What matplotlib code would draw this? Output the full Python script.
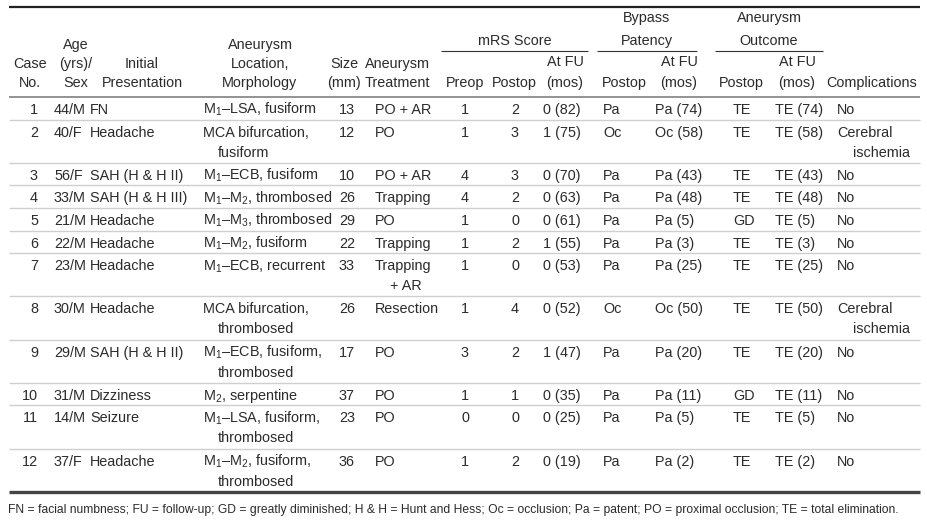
import matplotlib
matplotlib.use("Agg")
import matplotlib.pyplot as plt

plt.rcParams["font.family"] = ["Liberation Sans", "DejaVu Sans"]
plt.rcParams["mathtext.fontset"] = "custom"
plt.rcParams["mathtext.rm"] = "Liberation Sans"
plt.rcParams["mathtext.it"] = "Liberation Sans"
plt.rcParams["mathtext.default"] = "regular"

# table data, one list per column
case_no = ["1", "2", "3", "4", "5", "6", "7", "8", "9", "10", "11", "12"]
age_sex = ["44/M", "40/F", "56/F", "33/M", "21/M", "22/M", "23/M", "30/M", "29/M", "31/M", "14/M", "37/F"]
presentation = ["FN", "Headache", "SAH (H & H II)", "SAH (H & H III)", "Headache", "Headache",
                "Headache", "Headache", "SAH (H & H II)", "Dizziness", "Seizure", "Headache"]
location = [r"M$_1$–LSA, fusiform", "MCA bifurcation,\nfusiform", r"M$_1$–ECB, fusiform",
            r"M$_1$–M$_2$, thrombosed", r"M$_1$–M$_3$, thrombosed", r"M$_1$–M$_2$, fusiform",
            r"M$_1$–ECB, recurrent", "MCA bifurcation,\nthrombosed", "M$_1$–ECB, fusiform,\nthrombosed",
            r"M$_2$, serpentine", "M$_1$–LSA, fusiform,\nthrombosed", "M$_1$–M$_2$, fusiform,\nthrombosed"]
size_mm = ["13", "12", "10", "26", "29", "22", "33", "26", "17", "37", "23", "36"]
treatment = ["PO + AR", "PO", "PO + AR", "Trapping", "PO", "Trapping", "Trapping\n+ AR",
             "Resection", "PO", "PO", "PO", "PO"]
mrs_preop = ["1", "1", "4", "4", "1", "1", "1", "1", "3", "1", "0", "1"]
mrs_postop = ["2", "3", "3", "2", "0", "2", "0", "4", "2", "1", "0", "2"]
mrs_fu = ["0 (82)", "1 (75)", "0 (70)", "0 (63)", "0 (61)", "1 (55)", "0 (53)", "0 (52)",
          "1 (47)", "0 (35)", "0 (25)", "0 (19)"]
bypass_postop = ["Pa", "Oc", "Pa", "Pa", "Pa", "Pa", "Pa", "Oc", "Pa", "Pa", "Pa", "Pa"]
bypass_fu = ["Pa (74)", "Oc (58)", "Pa (43)", "Pa (48)", "Pa (5)", "Pa (3)", "Pa (25)", "Oc (50)",
             "Pa (20)", "Pa (11)", "Pa (5)", "Pa (2)"]
outcome_postop = ["TE", "TE", "TE", "TE", "GD", "TE", "TE", "TE", "TE", "GD", "TE", "TE"]
outcome_fu = ["TE (74)", "TE (58)", "TE (43)", "TE (48)", "TE (5)", "TE (3)", "TE (25)", "TE (50)",
              "TE (20)", "TE (11)", "TE (5)", "TE (2)"]
complications = ["No", "Cerebral\nischemia", "No", "No", "No", "No", "No", "Cerebral\nischemia",
                 "No", "No", "No", "No"]

footnote = ("FN = facial numbness; FU = follow-up; GD = greatly diminished; H & H = Hunt and Hess; "
            "Oc = occlusion; Pa = patent; PO = proximal occlusion; TE = total elimination.")

TEXT = "#2b2b2b"
FS = 10.4

W, H = 927, 522
fig = plt.figure(figsize=(W / 100, H / 100), dpi=100)
ax = fig.add_axes([0, 0, 1, 1])
ax.set_xlim(0, W)
ax.set_ylim(H, 0)
ax.axis("off")

# column layout: (values, x, ha, indent for wrapped lines)
columns = [
    (case_no, 38, "right", 0),
    (age_sex, 54, "left", 0),
    (presentation, 90, "left", 0),
    (location, 203, "left", 15),
    (size_mm, 347, "center", 0),
    (treatment, 375, "left", 15),
    (mrs_preop, 465, "center", 0),
    (mrs_postop, 515, "center", 0),
    (mrs_fu, 543, "left", 0),
    (bypass_postop, 603, "left", 0),
    (bypass_fu, 655, "left", 0),
    (outcome_postop, 733, "left", 0),
    (outcome_fu, 775, "left", 0),
    (complications, 837, "left", 16),
]

# headers: (lines, x, baselines)
headers = [
    (["Case", "No."], 30, [68, 87]),
    (["Age", "(yrs)/", "Sex"], 76, [49, 68, 87]),
    (["Initial", "Presentation"], 142, [68, 87]),
    (["Aneurysm", "Location,", "Morphology"], 260, [49, 68, 87]),
    (["Size", "(mm)"], 344, [68, 87]),
    (["Aneurysm", "Treatment"], 397, [68, 87]),
    (["Preop"], 465, [87]),
    (["Postop"], 514, [87]),
    (["At FU", "(mos)"], 565, [66, 87]),
    (["Postop"], 624, [87]),
    (["At FU", "(mos)"], 679, [66, 87]),
    (["Postop"], 741, [87]),
    (["At FU", "(mos)"], 797, [66, 87]),
    (["Complications"], 872, [87]),
]
groups = [
    (["mRS Score"], 441, 588, [45]),
    (["Bypass", "Patency"], 597, 697, [22, 45]),
    (["Aneurysm", "Outcome"], 715, 823, [22, 45]),
]

X0, X1 = 9, 920
ax.plot([X0, X1], [7, 7], color="#222222", lw=1.6, solid_capstyle="butt")
ax.plot([X0, X1], [97, 97], color="#8a8a8a", lw=1.3, solid_capstyle="butt")

for lines, x, ys in headers:
    for t, y in zip(lines, ys):
        ax.text(x, y, t, ha="center", va="baseline", fontsize=FS, color=TEXT)

for lines, gx0, gx1, ys in groups:
    xc = (gx0 + gx1) / 2
    for t, y in zip(lines, ys):
        ax.text(xc, y, t, ha="center", va="baseline", fontsize=FS, color=TEXT)
    ax.plot([gx0, gx1], [51, 51], color="#333333", lw=0.8, solid_capstyle="butt")

# body rows
single, double = 22.6, 43.2
top = 97
n = len(case_no)
for i in range(n):
    nlines = max(len(col[0][i].split("\n")) for col in columns)
    h = single if nlines == 1 else double
    for vals, x, ha, indent in columns:
        for k, t in enumerate(vals[i].split("\n")):
            ax.text(x + (indent if k > 0 else 0), top + 17 + 20 * k, t,
                    ha=ha, va="baseline", fontsize=FS, color=TEXT)
    top += h
    if i < n - 1:
        ax.plot([X0, X1], [top, top], color="#cfcfcf", lw=1.0, solid_capstyle="butt")

ax.plot([X0, X1], [top, top], color="#444444", lw=2.4, solid_capstyle="butt")
ax.text(8, top + 21, footnote, ha="left", va="baseline", fontsize=8.75, color=TEXT)

fig.savefig("out.png", dpi=100)
